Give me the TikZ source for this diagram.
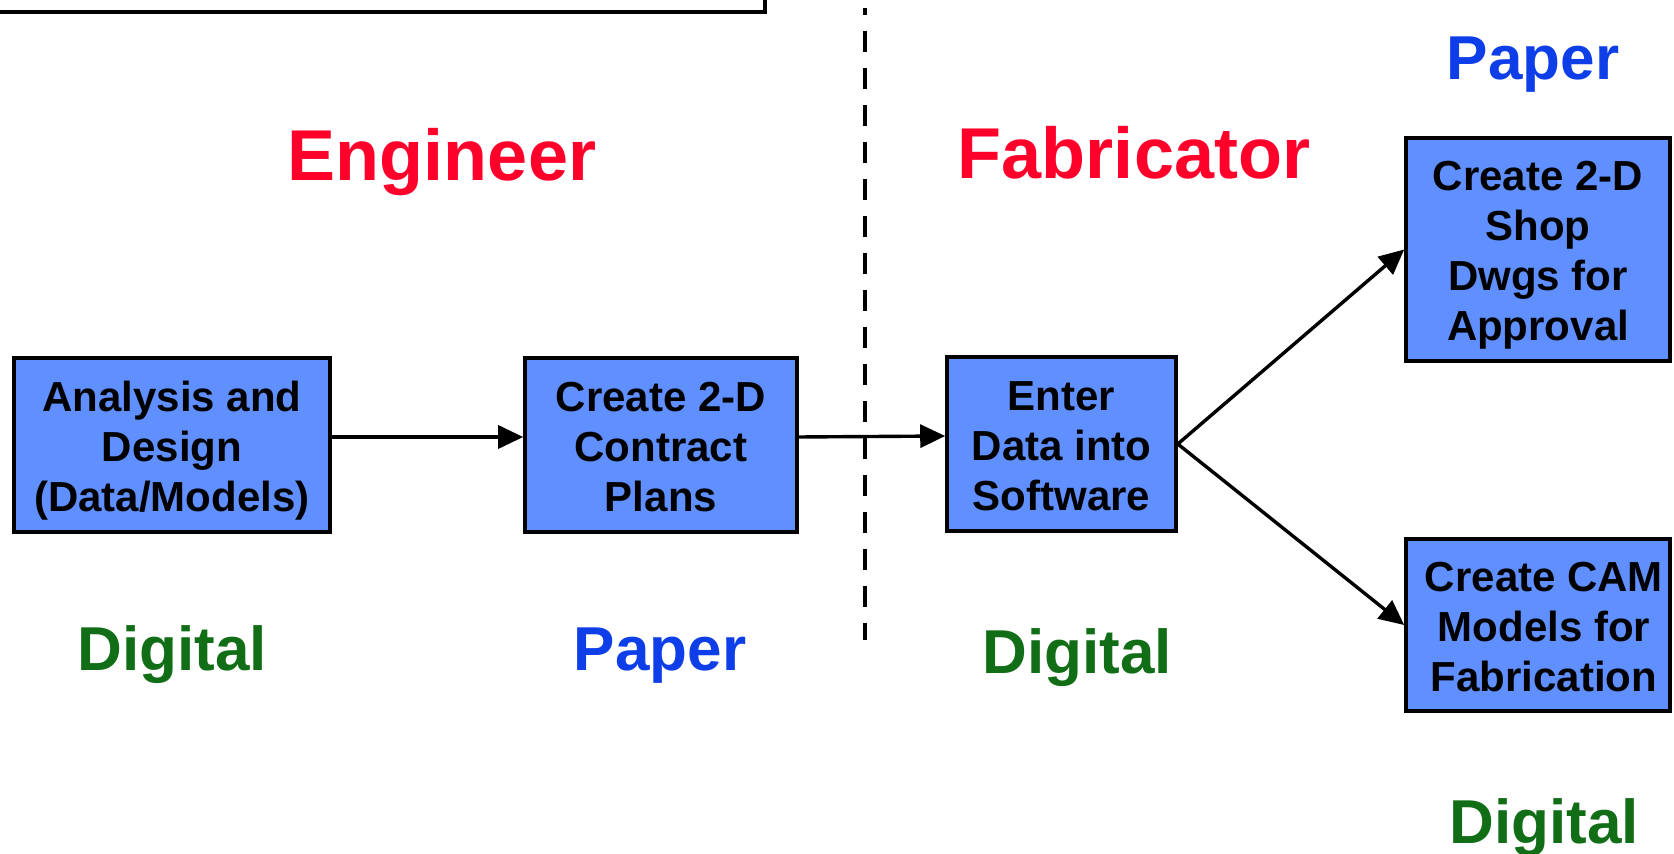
\documentclass[tikz,border=0pt]{standalone}
\usepackage{fontspec}
\setmainfont{Liberation Sans}
\usetikzlibrary{arrows.meta}
\definecolor{boxfill}{RGB}{96,143,255}
\definecolor{rolered}{RGB}{255,0,42}
\definecolor{paperblue}{RGB}{14,62,232}
\definecolor{digitalgreen}{RGB}{18,110,22}
% uniform line box, so that text is centred by its lines, not by its ink
\newcommand{\lnstrut}{\rule[-4pt]{0pt}{24.5pt}}

\begin{document}
\begin{tikzpicture}[x=0.5pt,y=-0.5pt,
  stepbox/.style={draw=black, line width=1.8pt, fill=boxfill, align=center,
    font=\bfseries\fontsize{21}{25}\selectfont, inner sep=0pt},
  flow/.style={line width=1.7pt, -{Triangle[length=12.5pt,width=11.5pt]}},
  role/.style={anchor=base, text=rolered, font=\bfseries\fontsize{36}{42}\selectfont},
  medium/.style={anchor=base, font=\bfseries\fontsize{31}{36}\selectfont},
]
\useasboundingbox (0,0) rectangle (1674,854);

% frame corner at the top left
\draw[line width=2pt] (-10,12) -- (765,12) -- (765,-10);

% separator between engineer and fabricator
\draw[line width=2pt, dash pattern=on 10.5pt off 8pt, dash phase=7pt] (865,8) -- (865,640);

% process steps
\node[stepbox, minimum width=158pt, minimum height=87pt] (analysis) at (172,445)
  {\lnstrut Analysis and\\Design\\(Data/Models)\lnstrut};
\node[stepbox, minimum width=136pt, minimum height=87pt] (contract) at (661,445)
  {\lnstrut Create 2-D\\Contract\\Plans\lnstrut};
\node[stepbox, minimum width=114.5pt, minimum height=87pt] (enter) at (1061.5,444)
  {\lnstrut Enter\\Data into\\Software\lnstrut};
\node[stepbox, minimum width=132pt, minimum height=111.5pt] (shop) at (1538,249.5)
  {\lnstrut Create 2-D\\Shop\\Dwgs for\\Approval\lnstrut};
\node[stepbox, minimum width=132pt, minimum height=86pt] (cam) at (1538,625)
  {\hspace*{6pt}\lnstrut Create CAM\\\hspace*{6pt}Models for\\\hspace*{6pt}Fabrication\lnstrut};

% flow of information
\draw[flow] ([yshift=4pt]analysis.east) -- ([yshift=4pt]contract.west);
\draw[flow] ([yshift=4pt]contract.east) -- ([yshift=4pt]enter.west);
\draw[flow] (enter.east) -- (shop.west);
\draw[flow] (enter.east) -- (cam.west);

% roles
\node[role] (engineer) at (442,181) {Engineer};
\node[role] (fabricator) at (1134,179) {Fabricator};

% media
\node[medium, text=paperblue] (paperTop) at (1533,80) {Paper};
\node[medium, text=digitalgreen] (digitalA) at (172,670) {Digital};
\node[medium, text=paperblue] (paperB) at (660,670) {Paper};
\node[medium, text=digitalgreen] (digitalC) at (1077,673) {Digital};
\node[medium, text=digitalgreen] (digitalE) at (1544,843) {Digital};
\end{tikzpicture}
\end{document}
